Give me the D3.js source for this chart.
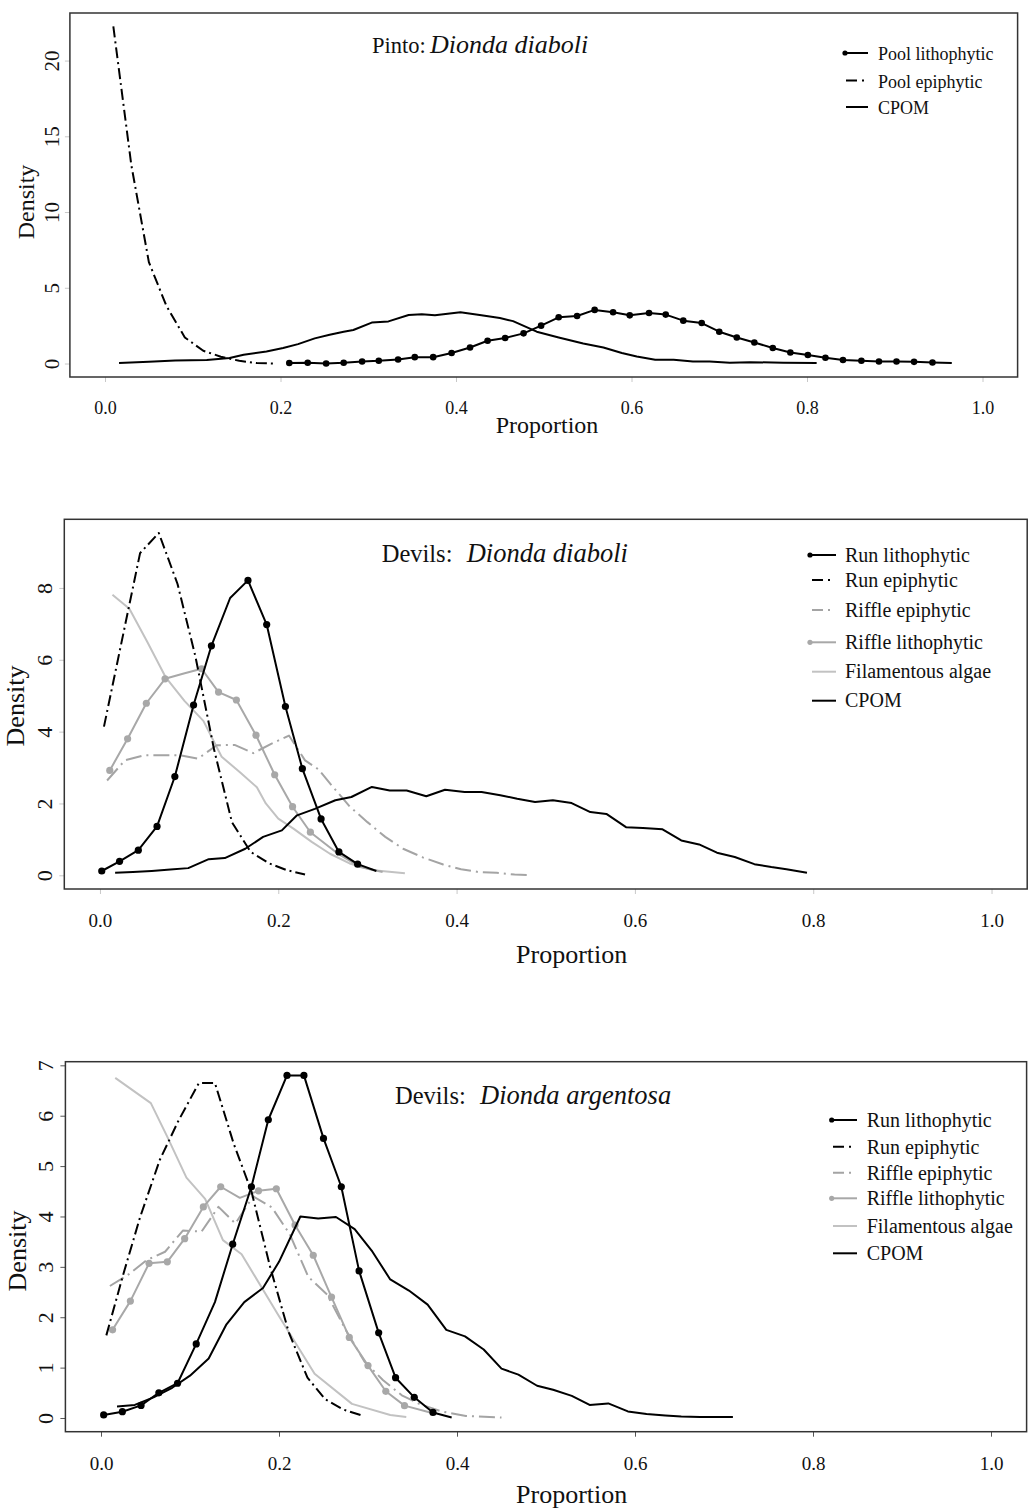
<!DOCTYPE html>
<html>
<head>
<meta charset="utf-8">
<script src="https://cdn.jsdelivr.net/npm/d3@7"></script>
<style>
  body { margin: 0; background: #fff; }
  svg { display: block; }
  text { font-family: "Liberation Serif", "Times New Roman", Times, serif; fill: #111; }
</style>
</head>
<body>
<svg id="chart" width="1029" height="1511"></svg>
<script>
// ---------------------------------------------------------------
// Posterior densities of diet proportions (x = proportion, y = density)
// ---------------------------------------------------------------

const X_TICKS = [0, 0.2, 0.4, 0.6, 0.8, 1.0];
const PINTO_Y_TICKS = [0, 5, 10, 15, 20];
const DIABOLI_Y_TICKS = [0, 2, 4, 6, 8];
const ARGENTOSA_Y_TICKS = [0, 1, 2, 3, 4, 5, 6, 7];

// Pinto: Dionda diaboli
const pintoPoolLitho = [
  [0.210,0.03],[0.231,0.05],[0.252,0.00],[0.272,0.05],[0.293,0.13],[0.312,0.18],[0.334,0.27],
  [0.353,0.42],[0.374,0.42],[0.395,0.69],[0.416,1.06],[0.436,1.50],[0.456,1.68],[0.477,1.99],
  [0.497,2.50],[0.517,3.05],[0.538,3.14],[0.558,3.54],[0.579,3.38],[0.598,3.18],[0.620,3.34],
  [0.639,3.23],[0.659,2.83],[0.680,2.67],[0.700,2.10],[0.720,1.72],[0.740,1.39],[0.761,1.02],
  [0.781,0.73],[0.801,0.56],[0.821,0.38],[0.841,0.23],[0.862,0.18],[0.882,0.13],[0.902,0.13],
  [0.922,0.11],[0.943,0.07],[0.965,0.03]
];
const pintoPoolEpi = [
  [0.0095,22.25],[0.030,13.1],[0.050,6.69],[0.070,3.80],[0.091,1.72],[0.112,0.84],
  [0.132,0.45],[0.153,0.18],[0.173,0.03],[0.194,0.00]
];
const pintoCpom = [
  [0.016,0.03],[0.050,0.12],[0.080,0.20],[0.116,0.23],[0.142,0.36],[0.158,0.58],[0.184,0.80],
  [0.203,1.02],[0.220,1.28],[0.239,1.66],[0.256,1.90],[0.272,2.10],[0.283,2.21],[0.304,2.70],
  [0.323,2.78],[0.346,3.20],[0.361,3.25],[0.376,3.18],[0.405,3.38],[0.427,3.20],[0.450,3.00],
  [0.465,2.80],[0.492,2.10],[0.517,1.72],[0.545,1.32],[0.568,1.06],[0.589,0.69],[0.606,0.46],
  [0.627,0.25],[0.648,0.25],[0.670,0.13],[0.689,0.13],[0.712,0.05],[0.735,0.09],[0.773,0.05],
  [0.811,0.03]
];

// Devils: Dionda diaboli
const diaboliRunLitho = [
  [0.002,0.12],[0.022,0.39],[0.043,0.70],[0.064,1.36],[0.084,2.75],[0.105,4.74],[0.125,6.39],
  [0.146,7.72],[0.166,8.21],[0.187,6.98],[0.208,4.70],[0.227,2.97],[0.248,1.57],[0.268,0.65],
  [0.289,0.31],[0.310,0.12]
];
const diaboliRunEpi = [
  [0.0045,4.14],[0.045,8.97],[0.066,9.53],[0.087,8.11],[0.107,6.10],[0.128,3.50],[0.148,1.48],
  [0.169,0.65],[0.190,0.33],[0.210,0.14],[0.230,0.02]
];
const diaboliRiffleEpi = [
  [0.008,2.64],[0.028,3.20],[0.049,3.34],[0.069,3.34],[0.090,3.34],[0.110,3.25],[0.131,3.62],
  [0.151,3.63],[0.172,3.40],[0.192,3.66],[0.212,3.89],[0.230,3.20],[0.245,2.95],[0.260,2.50],
  [0.280,1.92],[0.300,1.48],[0.320,1.07],[0.340,0.74],[0.362,0.50],[0.385,0.30],[0.405,0.17],
  [0.425,0.09],[0.445,0.07],[0.465,0.02],[0.480,0.01]
];
const diaboliRiffleLitho = [
  [0.011,2.92],[0.031,3.80],[0.052,4.79],[0.073,5.47],[0.094,5.62],[0.114,5.75],[0.133,5.10],
  [0.153,4.88],[0.175,3.90],[0.196,2.80],[0.216,1.91],[0.236,1.20],[0.267,0.60],[0.292,0.23],
  [0.317,0.09]
];
const diaboliFilamentous = [
  [0.014,7.81],[0.033,7.42],[0.053,6.50],[0.074,5.50],[0.095,4.85],[0.116,4.30],[0.1365,3.30],
  [0.157,2.87],[0.176,2.45],[0.186,2.00],[0.200,1.58],[0.217,1.30],[0.2375,0.93],[0.258,0.60],
  [0.280,0.33],[0.307,0.14],[0.342,0.06]
];
const diaboliCpom = [
  [0.017,0.07],[0.037,0.09],[0.058,0.12],[0.079,0.16],[0.099,0.20],[0.122,0.45],[0.140,0.48],
  [0.163,0.74],[0.183,1.07],[0.204,1.25],[0.221,1.67],[0.241,1.85],[0.264,2.09],[0.282,2.18],
  [0.305,2.46],[0.325,2.36],[0.344,2.36],[0.366,2.20],[0.387,2.38],[0.409,2.32],[0.428,2.32],
  [0.449,2.23],[0.468,2.13],[0.488,2.04],[0.508,2.09],[0.529,2.01],[0.550,1.76],[0.568,1.71],
  [0.590,1.34],[0.609,1.32],[0.631,1.28],[0.652,0.97],[0.672,0.86],[0.692,0.63],[0.712,0.51],
  [0.734,0.31],[0.753,0.23],[0.770,0.17],[0.793,0.07]
];

// Devils: Dionda argentosa
const argentosaRunLitho = [
  [0.003,0.06],[0.024,0.125],[0.045,0.25],[0.065,0.50],[0.086,0.69],[0.107,1.47],[0.128,2.30],
  [0.148,3.45],[0.169,4.59],[0.188,5.92],[0.209,6.80],[0.228,6.80],[0.250,5.55],[0.270,4.59],
  [0.290,2.92],[0.312,1.69],[0.331,0.80],[0.352,0.41],[0.373,0.11],[0.394,0.01]
];
const argentosaRunEpi = [
  [0.006,1.64],[0.025,2.85],[0.044,3.99],[0.066,5.12],[0.087,5.90],[0.110,6.65],[0.128,6.65],
  [0.149,5.45],[0.169,4.50],[0.190,3.00],[0.211,1.70],[0.232,0.80],[0.252,0.37],[0.272,0.17],
  [0.293,0.05]
];
const argentosaRiffleEpi = [
  [0.010,2.62],[0.031,2.85],[0.051,3.13],[0.072,3.30],[0.092,3.72],[0.113,3.70],[0.132,4.19],
  [0.151,3.86],[0.171,4.40],[0.192,4.18],[0.212,3.65],[0.233,2.80],[0.254,2.45],[0.275,1.75],
  [0.296,1.12],[0.317,0.75],[0.338,0.45],[0.360,0.26],[0.383,0.13],[0.410,0.04],[0.450,0.01]
];
const argentosaRiffleLitho = [
  [0.013,1.75],[0.033,2.32],[0.054,3.07],[0.0745,3.10],[0.094,3.56],[0.115,4.19],[0.1345,4.59],
  [0.156,4.37],[0.177,4.51],[0.197,4.55],[0.218,3.83],[0.2385,3.23],[0.259,2.40],[0.279,1.60],
  [0.300,1.04],[0.320,0.53],[0.341,0.245],[0.372,0.10]
];
const argentosaFilamentous = [
  [0.016,6.75],[0.056,6.25],[0.074,5.60],[0.096,4.77],[0.117,4.35],[0.137,3.53],[0.158,3.25],
  [0.199,2.05],[0.240,0.88],[0.282,0.28],[0.325,0.06],[0.343,0.02]
];
const argentosaCpom = [
  [0.018,0.23],[0.038,0.26],[0.059,0.41],[0.080,0.60],[0.100,0.84],[0.121,1.18],[0.141,1.86],
  [0.161,2.30],[0.182,2.58],[0.200,3.10],[0.224,4.00],[0.244,3.96],[0.264,3.99],[0.285,3.75],
  [0.305,3.30],[0.325,2.75],[0.346,2.53],[0.367,2.25],[0.388,1.75],[0.409,1.62],[0.430,1.36],
  [0.450,0.98],[0.469,0.86],[0.490,0.64],[0.508,0.56],[0.529,0.44],[0.549,0.26],[0.570,0.29],
  [0.592,0.13],[0.613,0.08],[0.634,0.05],[0.652,0.03],[0.673,0.02],[0.710,0.02]
];

// ---------------------------------------------------------------
// Line styles
// ---------------------------------------------------------------
const STYLES = {
  lith:    { stroke: "#000",    width: 2,   dash: null,         dot: "#000",    legendDash: null },
  epi:     { stroke: "#000",    width: 2,   dash: "11,4,2,4",   dot: null,      legendDash: "11,5,2,40" },
  rifEpi:  { stroke: "#a4a4a4", width: 2,   dash: "16,5,2,5",   dot: null,      legendDash: "11,5,2,40" },
  rifLith: { stroke: "#a8a8a8", width: 2,   dash: null,         dot: "#a8a8a8", legendDash: null },
  fil:     { stroke: "#c2c2c2", width: 2,   dash: null,         dot: null,      legendDash: null },
  cpom:    { stroke: "#000",    width: 2,   dash: null,         dot: null,      legendDash: null }
};

const panels = [
  {
    title: ["Pinto:", "Dionda diaboli"], titleX: [372, 430], titleY: 52.5, titleSize: [22.5, 26],
    box: { l: 69.9, r: 1017.6, t: 13, b: 377 },
    yTicks: PINTO_Y_TICKS, tickColor: "#c8c8c8",
    xLabelY: 413.5, xLabelSize: 18, yLabelX: 59, yLabelSize: 21,
    xTitle: { x: 547, y: 433, size: 24 }, yTitle: { x: 34, y: 202, size: 24 },
    legend: { dotX: 845, x1: 846, x2: 868, textX: 878, size: 18, rows: [53, 80.5, 107], dy: 7 },
    dotR: 3.3,
    series: [
      { name: "Pool lithophytic", data: pintoPoolLitho, style: "lith", bare: [37] },
      { name: "Pool epiphytic",   data: pintoPoolEpi,   style: "epi" },
      { name: "CPOM",             data: pintoCpom,      style: "cpom" }
    ],
    drawOrder: [2, 1, 0]
  },
  {
    title: ["Devils:", "Dionda diaboli"], titleX: [381.7, 466.7], titleY: 561.7, titleSize: [24.5, 26.5],
    box: { l: 64.3, r: 1027.2, t: 519.3, b: 889 },
    yTicks: DIABOLI_Y_TICKS, tickColor: "#c8c8c8",
    xLabelY: 926.7, xLabelSize: 19, yLabelX: 51.7, yLabelSize: 22,
    xTitle: { x: 571.7, y: 963.3, size: 26 }, yTitle: { x: 24, y: 706, size: 26 },
    legend: { dotX: 810, x1: 812, x2: 836, textX: 845, size: 20, rows: [555, 580, 610, 642.3, 671.7, 700.7], dy: 6.7 },
    dotR: 3.6,
    series: [
      { name: "Run lithophytic",    data: diaboliRunLitho,    style: "lith",    bare: [7, 15] },
      { name: "Run epiphytic",      data: diaboliRunEpi,      style: "epi" },
      { name: "Riffle epiphytic",   data: diaboliRiffleEpi,   style: "rifEpi" },
      { name: "Riffle lithophytic", data: diaboliRiffleLitho, style: "rifLith", bare: [4, 12, 13, 14] },
      { name: "Filamentous algae",  data: diaboliFilamentous, style: "fil" },
      { name: "CPOM",               data: diaboliCpom,        style: "cpom" }
    ],
    drawOrder: [4, 2, 3, 5, 1, 0]
  },
  {
    title: ["Devils:", "Dionda argentosa"], titleX: [395, 480], titleY: 1104, titleSize: [24.5, 26.5],
    box: { l: 65.4, r: 1026.6, t: 1061.7, b: 1431.7 },
    yTicks: ARGENTOSA_Y_TICKS, tickColor: "#555",
    xLabelY: 1470, xLabelSize: 19, yLabelX: 53.3, yLabelSize: 22,
    xTitle: { x: 571.7, y: 1503.3, size: 26 }, yTitle: { x: 25.7, y: 1251, size: 26 },
    legend: { dotX: 831.7, x1: 833, x2: 857, textX: 866.7, size: 20, rows: [1120, 1146.7, 1172.7, 1198.3, 1226, 1253.3], dy: 7 },
    dotR: 3.6,
    series: [
      { name: "Run lithophytic",    data: argentosaRunLitho,    style: "lith",    bare: [6, 19] },
      { name: "Run epiphytic",      data: argentosaRunEpi,      style: "epi" },
      { name: "Riffle epiphytic",   data: argentosaRiffleEpi,   style: "rifEpi" },
      { name: "Riffle lithophytic", data: argentosaRiffleLitho, style: "rifLith", bare: [7, 17] },
      { name: "Filamentous algae",  data: argentosaFilamentous, style: "fil" },
      { name: "CPOM",               data: argentosaCpom,        style: "cpom" }
    ],
    drawOrder: [4, 2, 3, 5, 1, 0]
  }
];

const svg = d3.select("#chart");
svg.append("rect").attr("width", 1029).attr("height", 1511).attr("fill", "#fff");

panels.forEach(p => {
  const g = svg.append("g");
  const b = p.box;

  // x range is padded 4% on both sides of [0, 1]; y likewise around [0, max]
  const x = d3.scaleLinear().domain([-0.04, 1.04]).range([b.l, b.r]);
  const yMax = d3.max(p.series, s => d3.max(s.data, d => d[1]));
  const y = d3.scaleLinear().domain([-0.04 * yMax, 1.04 * yMax]).range([b.b, b.t]);

  // bottom axis
  const xAxis = g.append("g")
    .attr("transform", `translate(0,${b.b})`)
    .call(d3.axisBottom(x).tickValues(X_TICKS).tickFormat(d3.format(".1f")).tickSize(5).tickSizeOuter(0));
  xAxis.select(".domain").remove();
  xAxis.selectAll(".tick line").attr("stroke", p.tickColor).attr("stroke-width", 1);
  xAxis.selectAll(".tick text")
    .attr("y", p.xLabelY - b.b).attr("dy", null)
    .attr("font-size", p.xLabelSize)
    .attr("font-family", "Liberation Serif, Times New Roman, serif")
    .attr("fill", "#111");

  // left axis with rotated labels
  const yAxis = g.append("g")
    .attr("transform", `translate(${b.l},0)`)
    .call(d3.axisLeft(y).tickValues(p.yTicks).tickFormat(d3.format("d")).tickSize(5).tickSizeOuter(0));
  yAxis.select(".domain").remove();
  yAxis.selectAll(".tick line").attr("stroke", p.tickColor).attr("stroke-width", 1);
  yAxis.selectAll(".tick text")
    .attr("x", null).attr("dy", null)
    .attr("text-anchor", "middle")
    .attr("transform", `translate(${p.yLabelX - b.l},0) rotate(-90)`)
    .attr("font-size", p.yLabelSize)
    .attr("font-family", "Liberation Serif, Times New Roman, serif")
    .attr("fill", "#111");

  // clip for data lines
  const clipId = "clip" + Math.round(b.t);
  svg.append("clipPath").attr("id", clipId)
    .append("rect").attr("x", b.l).attr("y", b.t).attr("width", b.r - b.l).attr("height", b.b - b.t);

  const plot = g.append("g").attr("clip-path", `url(#${clipId})`);
  const line = d3.line().x(d => x(d[0])).y(d => y(d[1]));

  p.drawOrder.forEach(i => {
    const s = p.series[i];
    const st = STYLES[s.style];
    plot.append("path")
      .datum(s.data)
      .attr("d", line)
      .attr("fill", "none")
      .attr("stroke", st.stroke)
      .attr("stroke-width", st.width)
      .attr("stroke-linejoin", "round")
      .attr("stroke-dasharray", st.dash);
    if (st.dot) {
      const bare = new Set(s.bare || []);
      plot.selectAll(null)
        .data(s.data.filter((d, k) => !bare.has(k)))
        .enter().append("circle")
        .attr("cx", d => x(d[0]))
        .attr("cy", d => y(d[1]))
        .attr("r", p.dotR)
        .attr("fill", st.dot);
    }
  });

  // frame
  g.append("rect")
    .attr("x", b.l).attr("y", b.t)
    .attr("width", b.r - b.l).attr("height", b.b - b.t)
    .attr("fill", "none").attr("stroke", "#333").attr("stroke-width", 1.5);

  // panel title: site in roman, species in italic
  const t = g.append("text").attr("y", p.titleY);
  t.append("tspan").attr("x", p.titleX[0]).attr("font-size", p.titleSize[0]).text(p.title[0]);
  t.append("tspan").attr("x", p.titleX[1]).attr("font-size", p.titleSize[1])
    .attr("font-style", "italic").text(p.title[1]);

  // axis titles
  g.append("text")
    .attr("x", p.xTitle.x).attr("y", p.xTitle.y)
    .attr("text-anchor", "middle").attr("font-size", p.xTitle.size)
    .text("Proportion");
  g.append("text")
    .attr("transform", `translate(${p.yTitle.x},${p.yTitle.y}) rotate(-90)`)
    .attr("text-anchor", "middle").attr("font-size", p.yTitle.size)
    .text("Density");

  // legend
  const L = p.legend;
  p.series.forEach((s, i) => {
    const st = STYLES[s.style];
    const ly = L.rows[i];
    g.append("line")
      .attr("x1", L.x1).attr("x2", L.x2).attr("y1", ly).attr("y2", ly)
      .attr("stroke", st.stroke).attr("stroke-width", st.width)
      .attr("stroke-dasharray", st.legendDash);
    if (st.dot) {
      g.append("circle").attr("cx", L.dotX).attr("cy", ly).attr("r", 2.6).attr("fill", st.dot);
    }
    g.append("text")
      .attr("x", L.textX).attr("y", ly + L.dy)
      .attr("font-size", L.size)
      .text(s.name);
  });
});
</script>
</body>
</html>
